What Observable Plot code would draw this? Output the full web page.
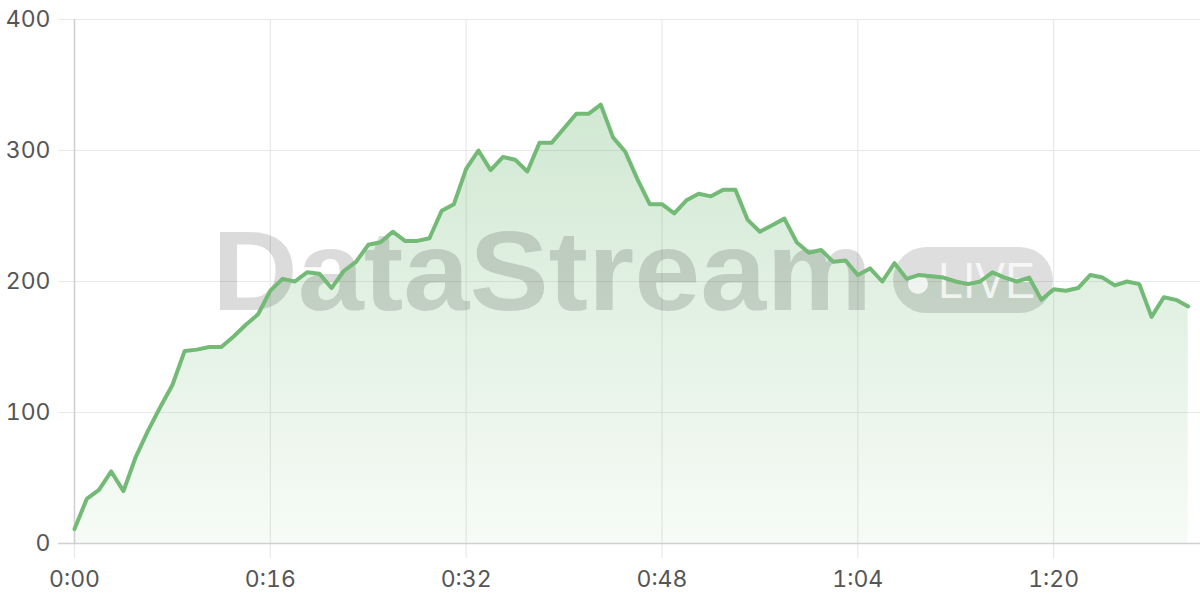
<!DOCTYPE html>
<html>
<head>
<meta charset="utf-8">
<script src="https://cdn.jsdelivr.net/npm/d3@7"></script>
<script src="https://cdn.jsdelivr.net/npm/@observablehq/plot@0.6"></script>
<style>
  html, body { margin: 0; padding: 0; background: #fff; }
  #chart { width: 1200px; height: 600px; }
</style>
</head>
<body>
<div id="chart"></div>
<script>
// Values, one per second (0:00 .. 1:31)
const values = [11,34,41,55,40,66,86,104,121,147,
  148,150,150,158,167,175,193,202,200,207,
  206,195,208,215,228,230,238,231,231,233,
  254,259,286,300,285,295,293,284,306,306,
  317,328,328,335,310,299,278,259,259,252,
  262,267,265,270,270,247,238,243,248,230,
  222,224,215,216,205,210,200,214,202,205,
  204,203,200,198,200,207,203,200,203,186,
  194,193,195,205,203,197,200,198,173,188,
  186,181];
const xTicks = [0, 16, 32, 48, 64, 80];
const yTicks = [0, 100, 200, 300, 400];
const watermarkTitle = "DataStream";
const watermarkBadge = "LIVE";

const data = values.map((v, i) => ({t: i, v}));
const fmt = s => `${Math.floor(s / 60)}:${String(s % 60).padStart(2, "0")}`;
const GREEN = "#73ba77";

const defs = () => {
  const g = d3.create("svg:defs");
  const lg = g.append("linearGradient").attr("id", "areaGrad")
    .attr("x1", 0).attr("y1", 0).attr("x2", 0).attr("y2", 1);
  lg.append("stop").attr("offset", "0%").attr("stop-color", GREEN).attr("stop-opacity", 0.33);
  lg.append("stop").attr("offset", "100%").attr("stop-color", GREEN).attr("stop-opacity", 0.06);
  return g.node();
};

const watermark = () => {
  const g = d3.create("svg:g").attr("pointer-events", "none").attr("text-anchor", "start");
  g.append("text").attr("x", 212).attr("y", 310)
    .attr("text-anchor", "start")
    .attr("font-family", "'Liberation Sans', Arial, sans-serif")
    .attr("font-weight", "bold").attr("font-size", 114)
    .attr("textLength", 660).attr("lengthAdjust", "spacingAndGlyphs")
    .attr("fill", "rgba(0,0,0,0.14)").text(watermarkTitle);
  g.append("rect").attr("x", 893).attr("y", 247).attr("width", 160).attr("height", 66)
    .attr("rx", 33).attr("fill", "rgba(0,0,0,0.13)");
  g.append("circle").attr("cx", 918).attr("cy", 284).attr("r", 10)
    .attr("fill", "rgba(255,255,255,0.75)");
  g.append("text").attr("x", 938).attr("y", 298)
    .attr("text-anchor", "start")
    .attr("font-family", "'Liberation Sans', Arial, sans-serif")
    .attr("font-size", 50).attr("textLength", 97).attr("lengthAdjust", "spacingAndGlyphs")
    .attr("fill", "rgba(255,255,255,0.75)").text(watermarkBadge);
  return g.node();
};

const chart = Plot.plot({
  width: 1200,
  height: 600,
  marginLeft: 74,
  marginRight: 0,
  marginTop: 19,
  marginBottom: 57,
  style: {fontFamily: "Inter, 'Noto Sans', sans-serif", fontSize: "23px", color: "#555", background: "#fff"},
  x: {domain: [0, 92]},
  y: {domain: [0, 400]},
  marks: [
    defs,
    Plot.ruleY(yTicks, {stroke: "#e8e8e8", strokeWidth: 1.2, insetLeft: -16}),
    Plot.ruleX(xTicks, {stroke: "#e8e8e8", strokeWidth: 1.2, insetBottom: -15}),
    Plot.areaY(data, {x: "t", y: "v", fill: "url(#areaGrad)", curve: "linear"}),
    watermark,
    Plot.ruleY([0], {stroke: "#d0d0d0", strokeWidth: 1.5, insetLeft: -16}),
    Plot.ruleX([0], {stroke: "#d0d0d0", strokeWidth: 1.5}),
    Plot.lineY(data, {x: "t", y: "v", stroke: GREEN, strokeWidth: 4, strokeLinejoin: "round", strokeLinecap: "round"}),
    Plot.axisY({ticks: yTicks, tickSize: 0, tickPadding: 24, label: null, fill: "#555", fontSize: 23}),
    Plot.axisX({ticks: xTicks, tickSize: 0, tickPadding: 27, label: null, tickFormat: fmt, fill: "#555", fontSize: 23})
  ]
});
document.getElementById("chart").appendChild(chart);
</script>
</body>
</html>
